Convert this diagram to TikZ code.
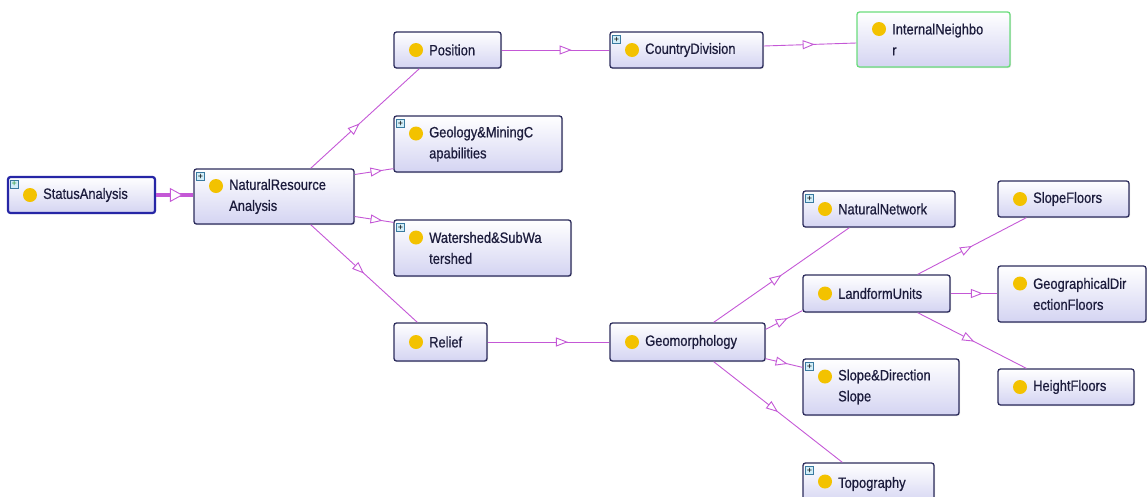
\documentclass[tikz,border=0pt]{standalone}
\usepackage{fontspec}
\setmainfont{Liberation Sans}
\newfontfamily\boxfont[FakeStretch=0.86,FakeBold=0.6]{Liberation Sans}
\usetikzlibrary{arrows.meta,decorations.markings,shadows}

\definecolor{relc}{HTML}{C458D6}
\definecolor{frame}{HTML}{2C2C5C}
\definecolor{lav}{HTML}{D4D4F2}
\definecolor{sun}{HTML}{F3C200}
\definecolor{ink}{HTML}{1C1C3C}
\definecolor{leaf}{HTML}{6ADC7C}
\definecolor{root}{HTML}{2626A6}
\definecolor{plusfill}{HTML}{D2EEF8}
\definecolor{plusline}{HTML}{3A7AA0}
\definecolor{plusgreen}{HTML}{2E9A3A}

\tikzset{
  clsbox/.style={draw=frame, line width=1.3pt, rounded corners=2.5pt,
    top color=white, bottom color=lav, inner sep=0pt,
    drop shadow={shadow xshift=1pt, shadow yshift=-1pt, opacity=0.25}},
  rootbox/.style={draw=root, line width=2.2pt},
  leafbox/.style={draw=leaf, line width=1.3pt},
  icon/.style={circle, fill=sun, minimum size=14pt, inner sep=0pt},
  clstext/.style={anchor=west, align=left, inner sep=0pt, text=ink,
    font=\boxfont\fontsize{15}{21}\selectfont},
  plusbox/.style={draw=plusline, fill=plusfill, line width=0.5pt,
    minimum size=8pt, inner sep=0pt, anchor=north west, text=black,
    font=\fontsize{9}{9}\selectfont},
  isa/.style={draw=relc, line width=0.9pt,
    postaction={decorate, decoration={markings,
      mark=at position #1 with {\arrow{Triangle[length=12pt,width=9pt,fill=white,line width=0.9pt]}}}}},
  isa/.default=0.5,
  rootisa/.style={draw=relc, line width=3.5pt,
    postaction={decorate, decoration={markings,
      mark=at position #1 with {\arrow{Triangle[length=13pt,width=14pt,fill=white,line width=0.9pt]}}}}}
}

% class box: name, x1, y1, x2, y2, label, icon offset, extra style
\newcommand\cls[8]{%
  \node[clsbox,#8,minimum width={#4-#2},minimum height={#5-#3}] (#1) at ({(#2+#4)/2},{(#3+#5)/2}) {};
  \node[icon] (#1-icon) at ({#2+22},{(#3+#5)/2+#7}) {};
  \node[clstext] (#1-text) at ({#2+35},{(#3+#5)/2}) {#6};
}
% expandable marker in the upper left corner
\newcommand\expander[2][plusbox]{%
  \node[#1] (#2-plus) at ([shift={(3pt,-4pt)}]#2.north west) {+};
}

\begin{document}
\begin{tikzpicture}[x=1pt,y=-1pt]
\useasboundingbox (0,0) rectangle (1147,496);
\clip (0,0) rectangle (1147,496);

% classes
\cls{sa}{8}{177}{155}{213}{StatusAnalysis}{0}{rootbox}
\cls{nra}{194}{169}{354}{224}{NaturalResource\\Analysis}{-10.5}{}
\cls{pos}{394}{32}{501}{68}{Position}{0}{}
\cls{cd}{610}{32}{763}{68}{CountryDivision}{0}{}
\cls{in}{857}{12}{1010}{67}{InternalNeighbo\\r}{-10.5}{leafbox}
\cls{geo}{394}{116}{562}{172}{Geology\&MiningC\\apabilities}{-10.5}{}
\cls{ws}{394}{220}{571}{276}{Watershed\&SubWa\\tershed}{-10.5}{}
\cls{rel}{394}{323}{487}{361}{Relief}{0}{}
\cls{geom}{610}{323}{765}{361}{Geomorphology}{0}{}
\cls{nn}{803}{191}{955}{227}{NaturalNetwork}{0}{}
\cls{lu}{803}{275}{950}{312}{LandformUnits}{0}{}
\cls{sf}{998}{181}{1129}{217}{SlopeFloors}{0}{}
\cls{gdf}{998}{266}{1146}{322}{GeographicalDir\\ectionFloors}{-10.5}{}
\cls{sds}{803}{359}{959}{415}{Slope\&Direction\\Slope}{-10.5}{}
\cls{hf}{998}{369}{1134}{405}{HeightFloors}{0}{}
\cls{topo}{803}{463}{934}{505}{Topography}{-2.5}{}

% expand markers
\expander[plusbox,text=plusgreen]{sa}
\expander{nra}
\expander{cd}
\expander{geo}
\expander{ws}
\expander{nn}
\expander{sds}
\expander{topo}

% subclass links
\draw[rootisa=0.72] (sa.east) -- (sa.east -| nra.west);
\draw[isa=0.45] ([xshift=-44pt]nra.north east) -- ([xshift=26pt]pos.south west);
\draw[isa=0.72] ([yshift=22pt]nra.east) -- ([yshift=4pt]geo.south west);
\draw[isa=0.72] ([yshift=-20pt]nra.east) -- ([yshift=-3pt]ws.north west);
\draw[isa=0.5] ([xshift=-44pt]nra.south east) -- ([xshift=24pt]rel.north west);
\draw[isa=0.65] (pos.east) -- (pos.east -| cd.west);
\draw[isa=0.55] ([yshift=4pt]cd.east) -- ([yshift=-3.5pt]in.west);
\draw[isa=0.66] (rel.east) -- (rel.east -| geom.west);
\draw[isa=0.5] ([xshift=-52pt]geom.north east) -- ([xshift=47pt]nn.south west);
\draw[isa=0.6] ([yshift=-7pt]geom.north east) -- ([yshift=2pt]lu.south west);
\draw[isa=0.6] ([yshift=3pt]geom.south east) -- ([yshift=-9pt]sds.north west);
\draw[isa=0.5] ([xshift=-52pt]geom.south east) -- ([xshift=40pt]topo.north west);
\draw[isa=0.5] ([xshift=-33pt]lu.north east) -- ([xshift=29pt]sf.south west);
\draw[isa=0.69] (lu.east) -- (lu.east -| gdf.west);
\draw[isa=0.52] ([xshift=-33pt]lu.south east) -- ([xshift=29pt]hf.north west);
\end{tikzpicture}
\end{document}
